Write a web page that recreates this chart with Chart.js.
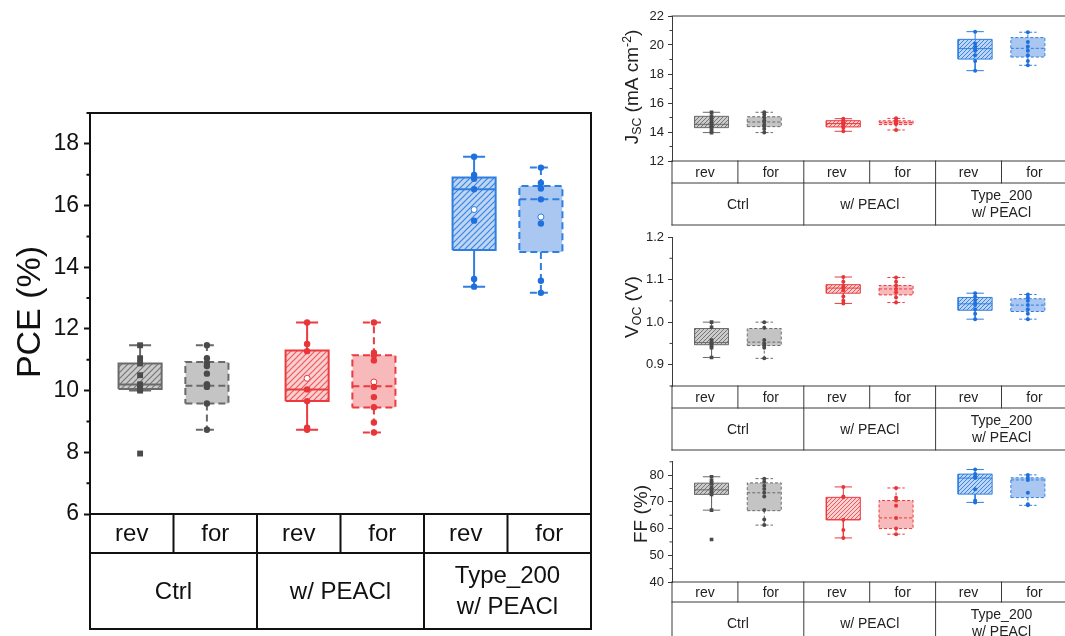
<!DOCTYPE html>
<html><head><meta charset="utf-8">
<script src="https://cdn.jsdelivr.net/npm/chart.js@4.4.0/dist/chart.umd.min.js"></script>
<style>
html,body{margin:0;padding:0;background:#fff;overflow:hidden;width:1065px;height:636px;position:relative;}
canvas{position:absolute;}
</style></head><body>
<canvas id="pce" width="600" height="636" style="left:0;top:0;"></canvas>
<canvas id="jsc" width="470" height="226" style="left:600px;top:0;"></canvas>
<canvas id="voc" width="470" height="226" style="left:600px;top:225px;"></canvas>
<canvas id="ff" width="470" height="186" style="left:600px;top:450px;"></canvas>
<script>
// ---------------- DATA ----------------
const groupLabels = ['Ctrl', 'w/ PEACl', 'Type_200\nw/ PEACl'];
const scanLabels = ['rev', 'for', 'rev', 'for', 'rev', 'for'];

// PCE (%)
const pceMin  = [10.00, 8.73, 8.73, 8.64, 13.37, 13.17];
const pceQ1   = [10.05, 9.58, 9.66, 9.45, 14.56, 14.49];
const pceMed  = [10.20, 10.16, 10.04, 10.14, 16.53, 16.20];
const pceQ3   = [10.88, 10.93, 11.30, 11.15, 16.91, 16.63];
const pceMax  = [11.47, 11.47, 12.21, 12.21, 17.58, 17.23];
const pceMean = [10.20, 10.20, 10.40, 10.28, 15.87, 15.63];
const pcePoints = [
  [11.47, 11.05, 10.88, 10.50, 10.20, 10.15, 10.05, 10.00, 7.96],
  [11.47, 11.05, 10.90, 10.80, 10.55, 10.20, 10.12, 9.58, 8.73],
  [12.21, 11.51, 11.28, 10.04, 9.66, 8.80, 8.73],
  [12.21, 11.23, 11.15, 10.98, 10.12, 9.79, 9.46, 8.97, 8.64],
  [17.58, 16.99, 16.87, 16.53, 15.51, 13.62, 13.37],
  [17.23, 16.73, 16.55, 16.20, 15.42, 13.56, 13.17]
];
const pceTicks = [6, 8, 10, 12, 14, 16, 18];
const pceMinorTicks = [7, 9, 11, 13, 15, 17, 19];

// Jsc (mA cm^-2)
const jscMin = [13.96, 13.96, 14.05, 14.14, 18.23, 18.60];
const jscQ1  = [14.30, 14.37, 14.35, 14.51, 19.03, 19.17];
const jscMed = [14.53, 14.69, 14.58, 14.65, 19.75, 19.77];
const jscQ3  = [15.08, 15.05, 14.78, 14.77, 20.39, 20.51];
const jscMax = [15.36, 15.36, 14.92, 14.94, 20.92, 20.88];
const jscPoints = [
  [15.36, 15.10, 14.90, 14.70, 14.55, 14.40, 14.30, 14.10, 13.96],
  [15.36, 15.20, 15.00, 14.80, 14.70, 14.50, 14.40, 14.20, 13.96],
  [14.92, 14.80, 14.70, 14.60, 14.50, 14.40, 14.30, 14.05],
  [14.94, 14.80, 14.70, 14.60, 14.55, 14.14],
  [20.92, 20.10, 19.90, 19.75, 19.60, 19.30, 18.90, 18.23],
  [20.88, 20.20, 19.90, 19.60, 19.30, 18.90, 18.60]
];
const jscTicks = [12, 14, 16, 18, 20, 22];
const jscMinorTicks = [13, 15, 17, 19, 21];

// Voc (V)
const vocMin = [0.917, 0.915, 1.044, 1.046, 1.007, 1.007];
const vocQ1  = [0.947, 0.945, 1.068, 1.064, 1.028, 1.025];
const vocMed = [0.952, 0.953, 1.080, 1.078, 1.043, 1.040];
const vocQ3  = [0.985, 0.985, 1.088, 1.086, 1.058, 1.055];
const vocMax = [1.000, 1.000, 1.106, 1.105, 1.068, 1.065];
const vocPoints = [
  [1.000, 0.988, 0.958, 0.952, 0.945, 0.940, 0.917],
  [1.000, 0.987, 0.958, 0.950, 0.945, 0.940, 0.915],
  [1.106, 1.095, 1.085, 1.080, 1.075, 1.060, 1.050, 1.044],
  [1.105, 1.095, 1.086, 1.078, 1.070, 1.058, 1.046],
  [1.068, 1.060, 1.052, 1.045, 1.040, 1.030, 1.020, 1.007],
  [1.065, 1.058, 1.050, 1.040, 1.030, 1.020, 1.007]
];
const vocTicks = [0.9, 1.0, 1.1, 1.2];
const vocMinorTicks = [0.85, 0.95, 1.05, 1.15];

// FF (%)
const ffMin = [66.9, 61.3, 56.5, 57.9, 69.8, 68.7];
const ffQ1  = [72.8, 66.7, 63.3, 60.0, 72.9, 71.6];
const ffMed = [74.5, 73.4, 63.3, 64.0, 78.9, 78.2];
const ffQ3  = [77.0, 77.1, 71.7, 70.5, 80.4, 79.0];
const ffMax = [79.4, 78.7, 75.6, 75.2, 82.1, 80.1];
const ffPoints = [
  [79.4, 78.0, 77.0, 75.5, 74.5, 73.5, 72.8, 66.9, 55.9],
  [78.7, 77.5, 76.0, 74.8, 73.4, 72.0, 67.0, 63.4, 61.3],
  [75.6, 72.0, 71.7, 63.3, 59.5, 56.5],
  [75.2, 71.5, 70.5, 68.5, 64.0, 60.0, 57.9],
  [82.1, 80.4, 79.5, 78.9, 74.7, 70.5, 69.8],
  [80.1, 79.0, 78.2, 73.4, 69.1, 68.7]
];
const ffTicks = [40, 50, 60, 70, 80];
const ffMinorTicks = [45, 55, 65, 75, 85];

// ---------------- STYLE ----------------
const FAMILY = '"Liberation Sans", Arial, Helvetica, sans-serif';
Chart.defaults.font.family = FAMILY;

const palettes = [
  { line: '#6a6a6a', pt: '#4a4a4a', light: '#c4c4c4', hatchBg: '#cbcbcb', hatch: '#777777' },
  { line: '#ec3a3e', pt: '#e73539', light: '#f7b9ba', hatchBg: '#f9d0d0', hatch: '#ee5a5d' },
  { line: '#2f7fe0', pt: '#1f70de', light: '#a9c7f1', hatchBg: '#bed5f4', hatch: '#3a85e1' }
];

function makeHatch(bg, fg, s, w) {
  const c = document.createElement('canvas');
  c.width = s; c.height = s;
  const g = c.getContext('2d');
  g.fillStyle = bg; g.fillRect(0, 0, s, s);
  g.strokeStyle = fg; g.lineWidth = w;
  g.beginPath();
  g.moveTo(-1, s + 1); g.lineTo(s + 1, -1);
  g.moveTo(-1, 1); g.lineTo(1, -1);
  g.moveTo(s - 1, s + 1); g.lineTo(s + 1, s - 1);
  g.stroke();
  return g.createPattern(c, 'repeat');
}

function buildDatasets(st, pts, sty) {
  const ds = [];
  for (let i = 0; i < 6; i++) {
    const c = i + 0.5 + (i % 2 === 0 ? 0.1 : -0.1);
    const hw = 0.258, cap = 0.132;
    const pal = palettes[Math.floor(i / 2)];
    const isFor = i % 2 === 1;
    const dash = isFor ? sty.dash : [];
    const fillStyle = isFor ? pal.light : makeHatch(pal.hatchBg, pal.hatch, sty.hatchGap, sty.hatchW);
    const base = { pointRadius: 0, pointHoverRadius: 0, tension: 0, spanGaps: false };
    // box fill (q3 line filled down to q1 line)
    ds.push(Object.assign({}, base, { data: [{x: c - hw, y: st.q3[i]}, {x: c + hw, y: st.q3[i]}],
      fill: '+1', backgroundColor: fillStyle, borderColor: 'rgba(0,0,0,0)', borderWidth: 0, order: 6 }));
    ds.push(Object.assign({}, base, { data: [{x: c - hw, y: st.q1[i]}, {x: c + hw, y: st.q1[i]}],
      fill: false, backgroundColor: 'rgba(0,0,0,0)', borderColor: 'rgba(0,0,0,0)', borderWidth: 0, order: 6 }));
    // box outline
    ds.push(Object.assign({}, base, { data: [
        {x: c - hw, y: st.q1[i]}, {x: c + hw, y: st.q1[i]}, {x: c + hw, y: st.q3[i]},
        {x: c - hw, y: st.q3[i]}, {x: c - hw, y: st.q1[i]}],
      fill: false, borderColor: pal.line, backgroundColor: pal.line, borderWidth: sty.lw, borderDash: dash, order: 3 }));
    // median
    ds.push(Object.assign({}, base, { data: [{x: c - hw, y: st.med[i]}, {x: c + hw, y: st.med[i]}],
      fill: false, borderColor: pal.line, backgroundColor: pal.line, borderWidth: sty.lw, borderDash: dash, order: 3 }));
    // whiskers + caps
    ds.push(Object.assign({}, base, { data: [
        {x: c, y: st.q3[i]}, {x: c, y: st.max[i]}, {x: c, y: null},
        {x: c - cap, y: st.max[i]}, {x: c + cap, y: st.max[i]}, {x: c, y: null},
        {x: c, y: st.q1[i]}, {x: c, y: st.min[i]}, {x: c, y: null},
        {x: c - cap, y: st.min[i]}, {x: c + cap, y: st.min[i]}],
      fill: false, borderColor: pal.line, backgroundColor: pal.line, borderWidth: sty.lw, borderDash: dash, order: 3 }));
    // mean
    if (st.mean) {
      ds.push({ data: [{x: c, y: st.mean[i]}], showLine: false, pointRadius: sty.meanR, pointHoverRadius: sty.meanR,
        pointBackgroundColor: '#ffffff', pointBorderColor: pal.line, pointBorderWidth: 1,
        backgroundColor: '#ffffff', borderColor: pal.line, order: 1 });
    }
    // data points
    ds.push({ data: pts[i].map(v => ({x: c, y: v})), showLine: false,
      pointStyle: i === 0 ? 'rect' : 'circle',
      pointRadius: i === 0 ? sty.ptR * 1.3 : sty.ptR, pointHoverRadius: sty.ptR,
      pointBackgroundColor: pal.pt, pointBorderColor: pal.pt, pointBorderWidth: 0,
      backgroundColor: pal.pt, borderColor: pal.pt, order: 0 });
  }
  return ds;
}

// ---------------- PLUGINS ----------------
const tablePlugin = {
  id: 'catTable',
  afterDraw(chart, args, o) {
    const {ctx, chartArea: a} = chart;
    const x = chart.scales.x;
    const y0 = a.bottom, y1 = y0 + o.row1, y2 = y1 + o.row2;
    ctx.save();
    ctx.strokeStyle = o.color; ctx.lineWidth = o.lw; ctx.lineCap = 'square';
    ctx.beginPath();
    [y0, y1, y2].forEach(y => { ctx.moveTo(a.left, y); ctx.lineTo(a.right, y); });
    for (let k = 0; k <= 6; k++) {
      const px = x.getPixelForValue(k);
      ctx.moveTo(px, y0); ctx.lineTo(px, k % 2 === 0 ? y2 : y1);
    }
    ctx.stroke();
    ctx.fillStyle = o.textColor;
    ctx.font = o.size + 'px ' + FAMILY;
    ctx.textAlign = 'center'; ctx.textBaseline = 'middle';
    scanLabels.forEach((t, k) => ctx.fillText(t, x.getPixelForValue(k + 0.5), (y0 + y1) / 2 + 1));
    groupLabels.forEach((t, g) => {
      const lines = t.split('\n');
      const cx = x.getPixelForValue(2 * g + 1);
      const cy = (y1 + y2) / 2 + 1;
      lines.forEach((ln, j) => ctx.fillText(ln, cx, cy + (j - (lines.length - 1) / 2) * o.lh));
    });
    ctx.restore();
  }
};

const framePlugin = {
  id: 'frame',
  afterDraw(chart, args, o) {
    const {ctx, chartArea: a} = chart;
    const y = chart.scales.y;
    ctx.save();
    ctx.strokeStyle = o.color; ctx.lineWidth = o.lw;
    ctx.beginPath();
    if (o.top) { ctx.moveTo(a.left - o.lw / 2, a.top); ctx.lineTo(a.right + o.lw / 2, a.top); }
    if (o.right) { ctx.moveTo(a.right, a.top); ctx.lineTo(a.right, a.bottom); }
    (o.minor || []).forEach(v => {
      const py = y.getPixelForValue(v);
      ctx.moveTo(a.left - o.minorLen, py); ctx.lineTo(a.left, py);
    });
    ctx.stroke();
    ctx.restore();
  }
};

const titlePlugin = {
  id: 'axTitle',
  afterDraw(chart, args, o) {
    const ctx = chart.ctx;
    const f = sz => sz + 'px ' + FAMILY;
    ctx.save();
    ctx.translate(o.x, o.y);
    ctx.rotate(-Math.PI / 2);
    ctx.fillStyle = o.color;
    ctx.textBaseline = 'alphabetic'; ctx.textAlign = 'left';
    let total = 0;
    o.parts.forEach(p => { ctx.font = f(p.s ? o.size * 0.65 : o.size); total += ctx.measureText(p.t).width; });
    let cx = -total / 2;
    const base = o.size * 0.36;
    o.parts.forEach(p => {
      const sz = p.s ? o.size * 0.65 : o.size;
      ctx.font = f(sz);
      const dy = p.s === 'sub' ? o.size * 0.18 : (p.s === 'sup' ? -o.size * 0.38 : 0);
      ctx.fillText(p.t, cx, base + dy);
      cx += ctx.measureText(p.t).width;
    });
    ctx.restore();
  }
};

// ---------------- CHART FACTORY ----------------
function makeChart(id, cfg) {
  const st = cfg.stats;
  return new Chart(document.getElementById(id), {
    type: 'line',
    data: { datasets: buildDatasets(st, cfg.points, cfg.sty) },
    options: {
      responsive: false, maintainAspectRatio: false, animation: false,
      devicePixelRatio: 1,
      layout: { padding: cfg.padding },
      events: [],
      scales: {
        x: { type: 'linear', min: 0, max: 6, display: false },
        y: {
          type: 'linear', min: cfg.yMin, max: cfg.yMax,
          afterFit(s) { s.width = cfg.yWidth; },
          afterBuildTicks(s) { s.ticks = cfg.ticks.map(v => ({value: v})); },
          ticks: { font: { size: cfg.tickSize, family: FAMILY }, color: cfg.textColor, padding: cfg.tickPad,
                   callback: cfg.fmt },
          grid: { drawOnChartArea: false, tickLength: cfg.tickLen, tickColor: cfg.lineColor, tickWidth: cfg.lineW },
          border: { display: true, color: cfg.lineColor, width: cfg.lineW }
        }
      },
      plugins: {
        legend: { display: false }, tooltip: { enabled: false },
        catTable: { row1: cfg.row1, row2: cfg.row2, color: cfg.lineColor, lw: cfg.lineW,
                    textColor: cfg.textColor, size: cfg.tableSize, lh: cfg.tableLH },
        frame: { color: cfg.lineColor, lw: cfg.lineW, top: cfg.top, right: cfg.right, minor: cfg.minor, minorLen: cfg.minorLen },
        axTitle: { parts: cfg.title, x: cfg.titleX, y: cfg.titleY, size: cfg.titleSize, color: cfg.textColor }
      }
    },
    plugins: [tablePlugin, framePlugin, titlePlugin]
  });
}

const mainSty = { lw: 2, dash: [7, 4], ptR: 3.2, meanR: 3.0, hatchGap: 6, hatchW: 1.2 };
const smallSty = { lw: 1, dash: [3, 2], ptR: 2, meanR: 0, hatchGap: 4, hatchW: 1 };

makeChart('pce', {
  stats: { min: pceMin, q1: pceQ1, med: pceMed, q3: pceQ3, max: pceMax, mean: pceMean },
  points: pcePoints, sty: mainSty,
  padding: { left: 0, top: 113, right: 9, bottom: 122 },
  yMin: 6, yMax: 19, yWidth: 90, ticks: pceTicks, minor: pceMinorTicks, minorLen: 3.5,
  tickSize: 23, tickPad: 5, tickLen: 6, fmt: v => String(v),
  textColor: '#111', lineColor: '#111', lineW: 2, top: true, right: true,
  row1: 39, row2: 76, tableSize: 24, tableLH: 31,
  title: [{t: 'PCE (%)'}], titleX: 28, titleY: 312, titleSize: 34
});

const smallCommon = {
  sty: smallSty, yWidth: 72, tickSize: 13, tickPad: 4, tickLen: 4, minorLen: 2.5,
  textColor: '#222', lineColor: '#3a3a3a', lineW: 1, right: true,
  tableSize: 14, tableLH: 17
};

makeChart('jsc', Object.assign({}, smallCommon, {
  stats: { min: jscMin, q1: jscQ1, med: jscMed, q3: jscQ3, max: jscMax },
  points: jscPoints, top: true,
  padding: { left: 0, top: 16, right: 0, bottom: 65 },
  yMin: 12, yMax: 22, ticks: jscTicks, minor: jscMinorTicks, fmt: v => String(v),
  row1: 22, row2: 42,
  title: [{t: 'J'}, {t: 'SC', s: 'sub'}, {t: ' (mA cm'}, {t: '-2', s: 'sup'}, {t: ')'}],
  titleX: 31, titleY: 87, titleSize: 19
}));

makeChart('voc', Object.assign({}, smallCommon, {
  stats: { min: vocMin, q1: vocQ1, med: vocMed, q3: vocQ3, max: vocMax },
  points: vocPoints, top: false,
  padding: { left: 0, top: 12, right: 0, bottom: 65 },
  yMin: 0.85, yMax: 1.2, ticks: vocTicks, minor: vocMinorTicks, fmt: v => v.toFixed(1),
  row1: 22, row2: 42,
  title: [{t: 'V'}, {t: 'OC', s: 'sub'}, {t: ' (V)'}],
  titleX: 31, titleY: 82, titleSize: 19
}));

makeChart('ff', Object.assign({}, smallCommon, {
  stats: { min: ffMin, q1: ffQ1, med: ffMed, q3: ffQ3, max: ffMax },
  points: ffPoints, top: false,
  padding: { left: 0, top: 7, right: 0, bottom: 54 },
  yMin: 40, yMax: 85, ticks: ffTicks, minor: ffMinorTicks, fmt: v => String(v),
  row1: 20, row2: 42,
  title: [{t: 'FF (%)'}],
  titleX: 40, titleY: 64, titleSize: 19
}));
</script>
</body></html>
